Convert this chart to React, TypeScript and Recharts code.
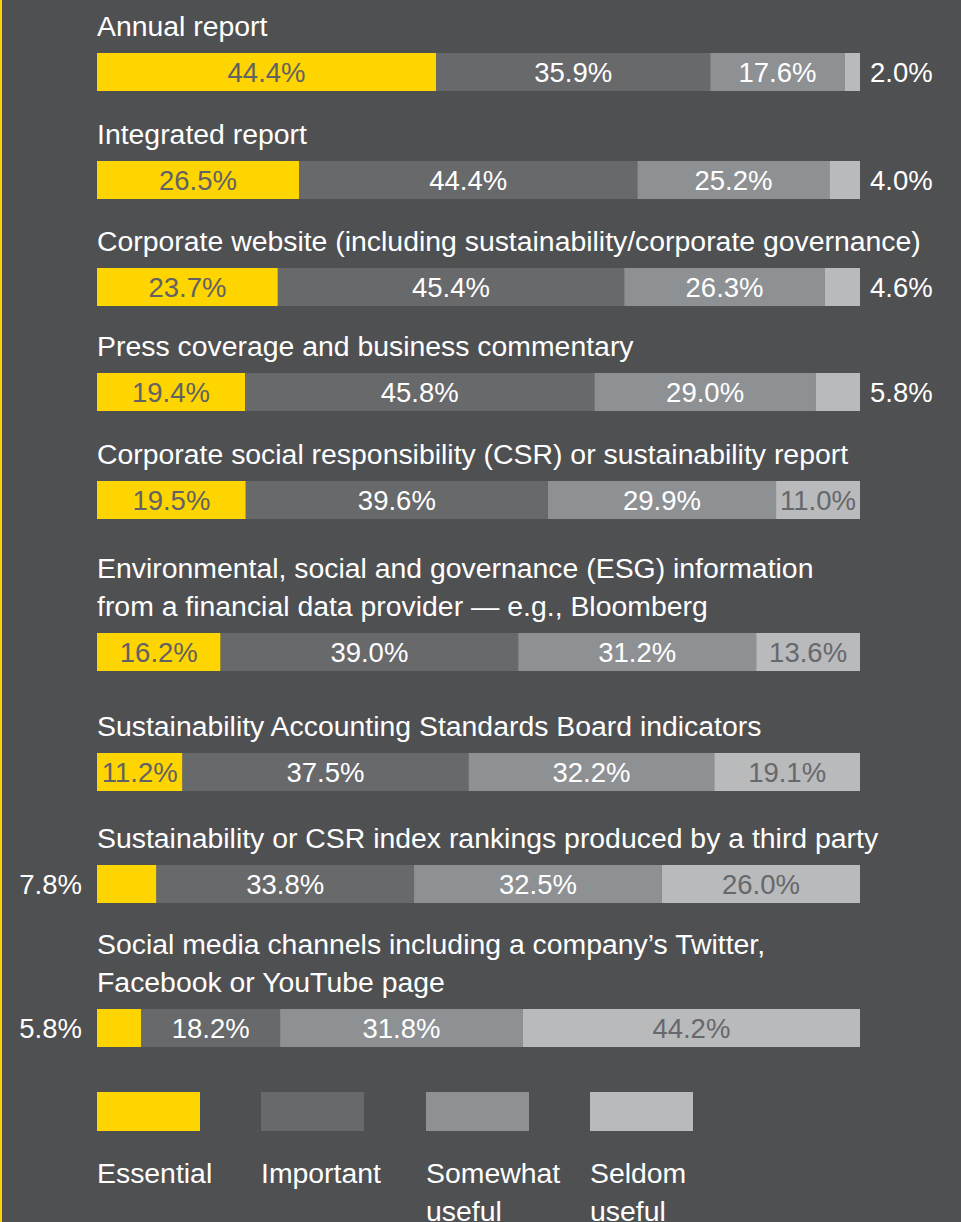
import { Bar, BarChart, LabelList, XAxis, YAxis } from "recharts";

const categories = [
  "Annual report",
  "Integrated report",
  "Corporate website (including sustainability/corporate governance)",
  "Press coverage and business commentary",
  "Corporate social responsibility (CSR) or sustainability report",
  "Environmental, social and governance (ESG) information\nfrom a financial data provider — e.g., Bloomberg",
  "Sustainability Accounting Standards Board indicators",
  "Sustainability or CSR index rankings produced by a third party",
  "Social media channels including a company’s Twitter,\nFacebook or YouTube page",
];

const essential = [44.4, 26.5, 23.7, 19.4, 19.5, 16.2, 11.2, 7.8, 5.8];
const important = [35.9, 44.4, 45.4, 45.8, 39.6, 39.0, 37.5, 33.8, 18.2];
const somewhat = [17.6, 25.2, 26.3, 29.0, 29.9, 31.2, 32.2, 32.5, 31.8];
const seldom = [2.0, 4.0, 4.6, 5.8, 11.0, 13.6, 19.1, 26.0, 44.2];

const series = [
  { key: "essential", name: "Essential", fill: "#ffd500", text: "#616265", outside: "left" },
  { key: "important", name: "Important", fill: "#68696b", text: "#ffffff", outside: "" },
  { key: "somewhat", name: "Somewhat useful", fill: "#8e9194", text: "#ffffff", outside: "" },
  { key: "seldom", name: "Seldom useful", fill: "#b9babc", text: "#67686b", outside: "right" },
];

const rows = categories.map((name, i) => ({
  name,
  essential: essential[i],
  important: important[i],
  somewhat: somewhat[i],
  seldom: seldom[i],
}));

// layout
const W = 961;
const H = 1222;
const BAR_H = 38;
const LEFT = 97;
const RIGHT = 101;
const barTops = [53, 161, 268, 373, 481, 633, 753, 865, 1009];
const legendLeft = [97, 261, 426, 590];
const FONT = "'Liberation Sans', Arial, sans-serif";

const makeLabel = (s: (typeof series)[number]) => (props: any) => {
  const { x, y, width, height, value } = props;
  const v = Number(value);
  const cy = Number(y) + Number(height) / 2;
  const txt = `${v.toFixed(1)}%`;
  const common = { y: cy, dy: "0.36em", fontSize: 27.5, fontFamily: FONT };
  if (v < 10 && s.outside === "right") {
    return (
      <text {...common} x={Number(x) + Number(width) + 10} fill="#ffffff" textAnchor="start">
        {txt}
      </text>
    );
  }
  if (v < 10 && s.outside === "left") {
    return (
      <text {...common} x={Number(x) - 15} fill="#ffffff" textAnchor="end">
        {txt}
      </text>
    );
  }
  return (
    <text {...common} x={Number(x) + Number(width) / 2} fill={s.text} textAnchor="middle">
      {txt}
    </text>
  );
};

function Row({ row, top }: { row: (typeof rows)[number]; top: number }) {
  const lines = row.name.split("\n");
  return (
    <>
      <div
        style={{
          position: "absolute",
          left: LEFT,
          top: top - 46 - (lines.length - 1) * 38,
          fontSize: 28.4,
          lineHeight: "38px",
          color: "#ffffff",
          whiteSpace: "nowrap",
        }}
      >
        {lines.map((l) => (
          <div key={l}>{l}</div>
        ))}
      </div>
      <div style={{ position: "absolute", left: 0, top }}>
        <BarChart
          width={W}
          height={BAR_H}
          data={[row]}
          layout="vertical"
          margin={{ top: 0, right: RIGHT, bottom: 0, left: LEFT }}
          barCategoryGap={0}
          style={{ overflow: "visible" }}
        >
          <XAxis type="number" hide domain={[0, "dataMax"]} />
          <YAxis type="category" dataKey="name" hide />
          {series.map((s) => (
            <Bar key={s.key} dataKey={s.key} stackId="a" fill={s.fill} isAnimationActive={false}>
              <LabelList dataKey={s.key} content={makeLabel(s)} />
            </Bar>
          ))}
        </BarChart>
      </div>
    </>
  );
}

export default function App() {
  return (
    <div
      style={{
        position: "absolute",
        left: 0,
        top: 0,
        width: W,
        height: H,
        background: "#4f5052",
        overflow: "hidden",
        fontFamily: FONT,
      }}
    >
      <style>{`body{margin:0}`}</style>
      <div style={{ position: "absolute", left: 0, top: 0, width: 2, height: H, background: "#ffd500" }} />
      {rows.map((r, i) => (
        <Row key={r.name} row={r} top={barTops[i]} />
      ))}
      {series.map((s, i) => (
        <div key={s.key} style={{ position: "absolute", left: legendLeft[i], top: 1092 }}>
          <div style={{ width: 103, height: 39, background: s.fill }} />
          <div
            style={{
              marginTop: 23,
              width: 150,
              fontSize: 28.4,
              lineHeight: "38px",
              color: "#ffffff",
            }}
          >
            {s.name}
          </div>
        </div>
      ))}
    </div>
  );
}
